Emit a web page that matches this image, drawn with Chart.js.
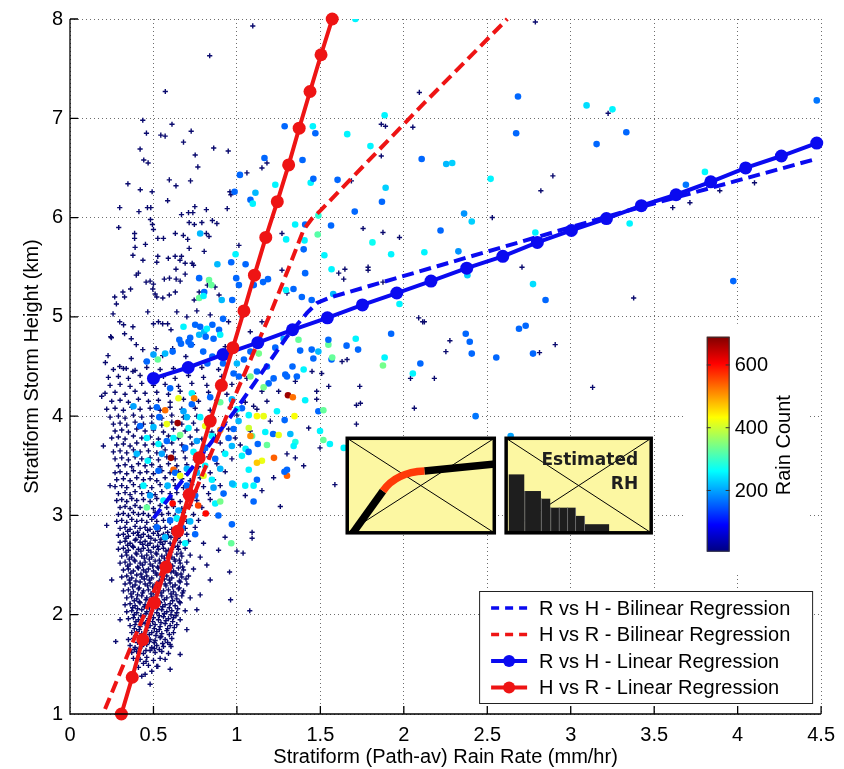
<!DOCTYPE html>
<html>
<head>
<meta charset="utf-8">
<script src="https://cdn.jsdelivr.net/npm/chart.js@4.4.1/dist/chart.umd.min.js"></script>
<style>
  html, body { margin: 0; padding: 0; background: #fff; }
  #wrap { width: 844px; height: 769px; }
</style>
</head>
<body>
<div id="wrap"><canvas id="c" width="844" height="769"></canvas></div>
<script>
'use strict';

// regression lines (rain rate x, storm height y)
const rvhBiX = [0.50, 0.75, 1.00, 1.30, 1.42, 1.48, 1.55, 1.65, 2.20, 3.30, 4.47];
const rvhBiY = [2.97, 3.52, 4.08, 4.80, 5.04, 5.14, 5.19, 5.24, 5.51, 6.05, 6.59];
const hvrBiX = [0.21, 0.60, 1.00, 1.20, 1.31, 1.40, 1.45, 1.50, 2.12, 2.62];
const hvrBiY = [1.05, 2.63, 4.25, 5.03, 5.49, 5.88, 5.99, 6.07, 7.15, 8.00];
const rvhLinX = [0.50, 0.708, 0.917, 1.125, 1.333, 1.542, 1.752, 1.958, 2.163, 2.377, 2.593, 2.80, 3.004, 3.214, 3.423, 3.631, 3.839, 4.048, 4.262, 4.474];
const rvhLinY = [4.38, 4.49, 4.62, 4.74, 4.87, 4.99, 5.12, 5.24, 5.36, 5.49, 5.61, 5.75, 5.87, 5.99, 6.12, 6.23, 6.36, 6.50, 6.62, 6.75];
const hvrLinX = [0.308, 0.373, 0.436, 0.506, 0.575, 0.645, 0.714, 0.774, 0.84, 0.907, 0.976, 1.042, 1.105, 1.173, 1.242, 1.31, 1.373, 1.438, 1.504, 1.571];
const hvrLinY = [1.00, 1.37, 1.75, 2.12, 2.48, 2.84, 3.21, 3.58, 3.95, 4.31, 4.69, 5.06, 5.42, 5.80, 6.16, 6.53, 6.90, 7.27, 7.64, 8.00];

// low count samples, drawn as small crosses: dense core
const coreLow = [
  [0.45,1.40],[0.49,1.43],[0.43,1.38],
  [0.41,1.47],[0.47,1.49],[0.52,1.48],[0.44,1.51],
  [0.38,1.56],[0.42,1.55],[0.46,1.57],[0.50,1.54],[0.54,1.56],[0.57,1.55],
  [0.37,1.62],[0.40,1.63],[0.44,1.61],[0.48,1.64],[0.51,1.62],[0.55,1.63],[0.59,1.61],
  [0.36,1.69],[0.39,1.67],[0.43,1.68],[0.46,1.70],[0.49,1.67],[0.52,1.69],[0.56,1.68],[0.60,1.70],
  [0.35,1.75],[0.38,1.76],[0.42,1.74],[0.45,1.77],[0.48,1.75],[0.51,1.74],[0.54,1.77],[0.57,1.75],[0.61,1.76],
  [0.37,1.82],[0.40,1.83],[0.43,1.81],[0.46,1.84],[0.49,1.82],[0.52,1.83],[0.55,1.81],[0.58,1.84],[0.62,1.82],
  [0.36,1.89],[0.39,1.90],[0.42,1.88],[0.45,1.91],[0.48,1.89],[0.51,1.90],[0.54,1.88],[0.57,1.91],[0.60,1.89],[0.64,1.90],
  [0.35,1.96],[0.38,1.97],[0.41,1.95],[0.44,1.98],[0.47,1.96],[0.50,1.97],[0.53,1.95],[0.56,1.98],[0.59,1.96],[0.62,1.97],[0.66,1.95],
  [0.34,2.03],[0.37,2.04],[0.40,2.02],[0.43,2.05],[0.46,2.03],[0.49,2.04],[0.52,2.02],[0.55,2.05],[0.58,2.03],[0.61,2.04],[0.64,2.02],[0.69,2.04],
  [0.33,2.10],[0.36,2.11],[0.39,2.09],[0.42,2.12],[0.45,2.10],[0.48,2.11],[0.51,2.09],[0.54,2.12],[0.57,2.10],[0.60,2.11],[0.63,2.09],[0.66,2.12],
  [0.34,2.17],[0.37,2.18],[0.40,2.16],[0.43,2.19],[0.46,2.17],[0.49,2.18],[0.52,2.16],[0.55,2.19],[0.58,2.17],[0.61,2.18],[0.64,2.16],[0.67,2.19],[0.72,2.17],
  [0.32,2.24],[0.35,2.25],[0.38,2.23],[0.41,2.26],[0.44,2.24],[0.47,2.25],[0.50,2.23],[0.53,2.26],[0.56,2.24],[0.59,2.25],[0.62,2.23],[0.65,2.26],[0.68,2.24],
  [0.33,2.31],[0.36,2.32],[0.39,2.30],[0.42,2.33],[0.45,2.31],[0.48,2.32],[0.51,2.30],[0.54,2.33],[0.57,2.31],[0.60,2.32],[0.63,2.30],[0.66,2.33],[0.70,2.31],
  [0.31,2.38],[0.34,2.39],[0.37,2.37],[0.40,2.40],[0.43,2.38],[0.46,2.39],[0.49,2.37],[0.52,2.40],[0.55,2.38],[0.58,2.39],[0.61,2.37],[0.64,2.40],[0.67,2.38],[0.71,2.39],
  [0.32,2.45],[0.35,2.46],[0.38,2.44],[0.41,2.47],[0.44,2.45],[0.47,2.46],[0.50,2.44],[0.53,2.47],[0.56,2.45],[0.59,2.46],[0.62,2.44],[0.65,2.47],[0.68,2.45],[0.74,2.46],
  [0.30,2.52],[0.33,2.53],[0.36,2.51],[0.39,2.54],[0.42,2.52],[0.45,2.53],[0.48,2.51],[0.51,2.54],[0.54,2.52],[0.57,2.53],[0.60,2.51],[0.63,2.54],[0.66,2.52],[0.70,2.53],
  [0.31,2.59],[0.34,2.60],[0.37,2.58],[0.40,2.61],[0.43,2.59],[0.46,2.60],[0.49,2.58],[0.52,2.61],[0.55,2.59],[0.58,2.60],[0.61,2.58],[0.64,2.61],[0.67,2.59],[0.72,2.60],[0.78,2.58],
  [0.29,2.66],[0.32,2.67],[0.35,2.65],[0.38,2.68],[0.41,2.66],[0.44,2.67],[0.47,2.65],[0.50,2.68],[0.53,2.66],[0.56,2.67],[0.59,2.65],[0.62,2.68],[0.65,2.66],[0.69,2.67],
  [0.30,2.73],[0.33,2.74],[0.36,2.72],[0.39,2.75],[0.42,2.73],[0.45,2.74],[0.48,2.72],[0.51,2.75],[0.54,2.73],[0.57,2.74],[0.60,2.72],[0.63,2.75],[0.66,2.73],[0.71,2.74],[0.80,2.72],
  [0.29,2.80],[0.32,2.81],[0.35,2.79],[0.38,2.82],[0.41,2.80],[0.44,2.81],[0.47,2.79],[0.50,2.82],[0.53,2.80],[0.56,2.81],[0.59,2.79],[0.62,2.82],[0.66,2.80],[0.70,2.81],
  [0.30,2.87],[0.33,2.88],[0.36,2.86],[0.39,2.89],[0.42,2.87],[0.45,2.88],[0.48,2.86],[0.51,2.89],[0.54,2.87],[0.57,2.88],[0.61,2.86],[0.65,2.89],[0.69,2.87],[0.75,2.88],
  [0.28,2.94],[0.31,2.95],[0.34,2.93],[0.37,2.96],[0.40,2.94],[0.43,2.95],[0.46,2.93],[0.49,2.96],[0.52,2.94],[0.56,2.95],[0.60,2.93],[0.64,2.96],[0.70,2.94],[0.77,2.95],
  [0.29,3.01],[0.32,3.02],[0.35,3.00],[0.38,3.03],[0.41,3.01],[0.44,3.02],[0.47,3.00],[0.51,3.03],[0.55,3.01],[0.59,3.02],[0.63,3.00],[0.68,3.03],[0.74,3.01],[0.82,3.02],
  [0.30,3.08],[0.33,3.09],[0.36,3.07],[0.39,3.10],[0.42,3.08],[0.46,3.09],[0.50,3.07],[0.54,3.10],[0.58,3.08],[0.62,3.09],[0.67,3.07],[0.72,3.10],[0.79,3.08],
  [0.28,3.15],[0.31,3.16],[0.34,3.14],[0.37,3.17],[0.40,3.15],[0.44,3.16],[0.48,3.14],[0.52,3.17],[0.57,3.15],[0.61,3.16],[0.66,3.14],[0.71,3.17],[0.76,3.15],[0.84,3.16],
  [0.29,3.22],[0.33,3.23],[0.36,3.21],[0.39,3.24],[0.43,3.22],[0.47,3.23],[0.51,3.21],[0.55,3.24],[0.60,3.22],[0.64,3.23],[0.69,3.21],[0.75,3.24],[0.83,3.22],
  [0.27,3.29],[0.31,3.30],[0.34,3.28],[0.38,3.31],[0.42,3.29],[0.45,3.30],[0.49,3.28],[0.54,3.31],[0.58,3.29],[0.63,3.30],[0.68,3.28],[0.73,3.31],[0.80,3.29],[0.90,3.30],
  [0.28,3.36],[0.32,3.37],[0.36,3.35],[0.40,3.38],[0.44,3.36],[0.48,3.37],[0.52,3.35],[0.57,3.38],[0.62,3.36],[0.67,3.37],[0.72,3.35],[0.78,3.38],[0.86,3.36],
  [0.27,3.43],[0.30,3.44],[0.34,3.42],[0.38,3.45],[0.42,3.43],[0.46,3.44],[0.50,3.42],[0.55,3.45],[0.60,3.43],[0.65,3.44],[0.70,3.42],[0.76,3.45],[0.84,3.43],[0.93,3.44],
  [0.29,3.50],[0.33,3.51],[0.37,3.49],[0.41,3.52],[0.45,3.50],[0.49,3.51],[0.54,3.49],[0.59,3.52],[0.64,3.50],[0.70,3.51],[0.77,3.49],[0.88,3.52],
  [0.27,3.57],[0.31,3.58],[0.35,3.56],[0.39,3.59],[0.43,3.57],[0.48,3.58],[0.53,3.56],[0.58,3.59],[0.63,3.57],[0.69,3.58],[0.75,3.56],[0.83,3.59],[0.97,3.57],
  [0.26,3.64],[0.30,3.65],[0.34,3.63],[0.38,3.66],[0.42,3.64],[0.47,3.65],[0.52,3.63],[0.57,3.66],[0.62,3.64],[0.68,3.65],[0.74,3.63],[0.81,3.66],[0.92,3.64],
  [0.28,3.71],[0.32,3.72],[0.36,3.70],[0.40,3.73],[0.45,3.71],[0.50,3.72],[0.55,3.70],[0.61,3.73],[0.67,3.71],[0.73,3.72],[0.80,3.70],[0.90,3.73],[1.02,3.71],
  [0.25,3.78],[0.29,3.79],[0.33,3.77],[0.38,3.80],[0.43,3.78],[0.48,3.79],[0.53,3.77],[0.59,3.80],[0.65,3.78],[0.72,3.79],[0.79,3.77],[0.87,3.80],[0.99,3.78],
  [0.27,3.85],[0.31,3.86],[0.35,3.84],[0.40,3.87],[0.45,3.85],[0.50,3.86],[0.56,3.84],[0.62,3.87],[0.69,3.85],[0.76,3.86],[0.85,3.84],[0.95,3.87],[1.08,3.85],
  [0.26,3.92],[0.30,3.93],[0.34,3.91],[0.39,3.94],[0.44,3.92],[0.49,3.93],[0.55,3.91],[0.61,3.94],[0.67,3.92],[0.74,3.93],[0.82,3.91],[0.93,3.94],
  [0.24,3.99],[0.29,4.00],[0.33,3.98],[0.38,4.01],[0.43,3.99],[0.49,4.00],[0.55,3.98],[0.61,4.01],[0.68,3.99],[0.76,4.00],[0.86,3.98],[1.00,4.01],
  [0.22,4.07],[0.27,4.08],[0.32,4.06],[0.37,4.09],[0.42,4.07],[0.48,4.08],[0.54,4.06],[0.60,4.09],[0.67,4.07],[0.75,4.08],[0.84,4.06],[0.96,4.09],[1.12,4.07],
  [0.25,4.15],[0.30,4.16],[0.35,4.14],[0.41,4.17],[0.47,4.15],[0.53,4.16],[0.60,4.14],[0.68,4.17],[0.77,4.15],[0.88,4.16],[1.05,4.14],
  [0.21,4.23],[0.27,4.24],[0.33,4.22],[0.39,4.25],[0.45,4.23],[0.52,4.24],[0.59,4.22],[0.66,4.25],[0.74,4.23],[0.83,4.24],[0.94,4.22],[1.15,4.25],
  [0.24,4.31],[0.30,4.32],[0.36,4.30],[0.43,4.33],[0.50,4.31],[0.57,4.32],[0.65,4.30],[0.73,4.33],[0.82,4.31],[0.97,4.32],
  [0.23,4.39],[0.29,4.40],[0.35,4.38],[0.42,4.41],[0.49,4.39],[0.56,4.40],[0.63,4.38],[0.71,4.41],[0.80,4.39],[0.91,4.40],[1.06,4.38],
  [0.26,4.47],[0.32,4.48],[0.39,4.46],[0.46,4.49],[0.54,4.47],[0.62,4.48],[0.70,4.46],[0.79,4.49],[0.89,4.47]
];

// extra low count samples filling the densest part of the core
const coreFill = [
  [0.385,1.65],[0.415,1.66],[0.455,1.64],[0.505,1.66],[0.535,1.65],
  [0.405,1.72],[0.445,1.71],[0.475,1.73],[0.505,1.72],[0.555,1.71],[0.585,1.72],
  [0.395,1.79],[0.435,1.78],[0.475,1.80],[0.515,1.79],[0.545,1.78],[0.595,1.80],
  [0.385,1.86],[0.415,1.85],[0.465,1.87],[0.505,1.86],[0.535,1.85],[0.585,1.86],[0.625,1.87],
  [0.395,1.93],[0.435,1.92],[0.465,1.94],[0.495,1.93],[0.545,1.92],[0.575,1.94],[0.615,1.93],
  [0.385,2.00],[0.425,1.99],[0.455,2.01],[0.485,2.00],[0.535,1.99],[0.565,2.01],[0.605,2.00],[0.635,1.99],
  [0.375,2.07],[0.405,2.06],[0.445,2.08],[0.475,2.07],[0.525,2.06],[0.555,2.08],[0.595,2.07],[0.645,2.06],
  [0.385,2.14],[0.415,2.13],[0.455,2.15],[0.505,2.14],[0.535,2.13],[0.565,2.15],[0.615,2.14],[0.655,2.13],
  [0.365,2.21],[0.405,2.20],[0.435,2.22],[0.485,2.21],[0.515,2.20],[0.545,2.22],[0.605,2.21],[0.635,2.20],[0.675,2.22],
  [0.375,2.28],[0.415,2.27],[0.465,2.29],[0.495,2.28],[0.525,2.27],[0.575,2.29],[0.615,2.28],[0.655,2.27],
  [0.355,2.35],[0.395,2.34],[0.445,2.36],[0.475,2.35],[0.535,2.34],[0.565,2.36],[0.595,2.35],[0.655,2.34],[0.695,2.36],
  [0.365,2.42],[0.425,2.41],[0.455,2.43],[0.515,2.42],[0.545,2.41],[0.605,2.43],[0.635,2.42],[0.665,2.41],
  [0.345,2.49],[0.405,2.48],[0.435,2.50],[0.495,2.49],[0.525,2.48],[0.585,2.50],[0.615,2.49],[0.675,2.48],
  [0.355,2.56],[0.385,2.55],[0.445,2.57],[0.475,2.56],[0.535,2.55],[0.565,2.57],[0.625,2.56],[0.655,2.55],
  [0.335,2.63],[0.395,2.62],[0.425,2.64],[0.485,2.63],[0.515,2.62],[0.575,2.64],[0.605,2.63],[0.665,2.62],
  [0.345,2.70],[0.375,2.69],[0.435,2.71],[0.465,2.70],[0.525,2.69],[0.555,2.71],[0.615,2.70],[0.645,2.69],
  [0.335,2.77],[0.395,2.76],[0.425,2.78],[0.485,2.77],[0.545,2.76],[0.605,2.78],[0.645,2.77],
  [0.345,2.84],[0.405,2.83],[0.465,2.85],[0.525,2.84],[0.585,2.83],[0.635,2.85]
];

// low count samples outside the core
const sparseLow = [
  [1.095,7.93],[0.837,7.63],[0.571,7.27],[0.436,6.98],[0.611,6.94],[0.458,6.85],[0.544,6.83],[0.57,6.82],[0.726,6.87],
  [0.68,6.76],[0.42,6.69],[0.861,6.70],[0.948,6.67],[0.442,6.58],[0.468,6.55],[0.75,6.63],[0.766,6.51],[0.347,6.34],
  [0.595,6.38],[0.722,6.37],[0.635,6.32],[0.492,6.26],[0.421,6.28],[0.958,6.26],[0.964,6.23],[0.585,6.17],[0.298,6.10],
  [0.464,6.10],[0.484,6.10],[0.748,6.11],[0.668,6.03],[0.71,6.05],[0.736,6.05],[0.817,6.08],[0.942,6.09],[0.413,6.06],
  [0.482,5.98],[0.292,5.90],[0.387,5.84],[0.387,5.79],[0.494,5.93],[0.50,5.88],[0.526,5.79],[0.56,5.79],[0.714,5.95],
  [0.745,5.93],[0.79,5.95],[0.853,5.97],[0.88,5.94],[0.817,5.84],[0.833,5.81],[0.631,5.84],[0.679,5.82],[0.705,5.78],
  [0.452,5.73],[0.39,5.70],[0.526,5.61],[0.589,5.59],[0.63,5.61],[0.668,5.61],[0.714,5.69],[0.804,5.66],[0.377,5.62],
  [0.437,5.57],[0.52,5.55],[0.659,5.57],[0.69,5.54],[0.732,5.54],[0.74,5.52],[0.69,5.43],[0.41,5.44],[0.596,5.39],
  [0.636,5.38],[0.66,5.36],[0.48,5.36],[0.50,5.33],[0.635,5.48],[0.397,5.42],[0.317,5.25],[0.268,5.20],[0.327,5.20],
  [0.278,5.13],[0.363,5.28],[0.456,5.35],[0.496,5.28],[0.51,5.23],[0.52,5.20],[0.565,5.38],[0.556,5.19],[0.595,5.22],
  [0.631,5.25],[0.774,5.25],[0.744,5.17],[0.823,5.32],[0.869,5.30],[0.893,5.22],[0.258,5.03],[0.248,4.79],[0.298,4.95],
  [0.321,4.92],[0.327,4.83],[0.377,4.90],[0.367,4.78],[0.466,5.05],[0.50,4.93],[0.53,4.95],[0.555,4.93],[0.585,4.93],
  [0.605,4.87],[0.397,4.72],[0.436,4.67],[0.516,4.68],[0.367,4.58],[0.456,4.55],[0.555,4.61],[0.615,4.68],[0.694,4.60],
  [0.734,4.72],[0.228,4.61],[0.337,4.48],[0.377,4.45],[0.298,4.50],[0.212,4.54],[0.244,4.80],[0.64,5.05],[0.70,5.00],
  [0.76,5.06],[0.84,5.02],[0.95,4.95],[1.03,5.00],[1.08,4.85],[1.15,4.95],[0.93,4.70],[1.18,6.55],[1.15,6.50],
  [1.012,5.72],[1.06,6.45],[1.865,6.94],[1.89,6.92],[2.054,6.91],[1.865,6.62],[1.756,5.89],[1.875,5.85],[1.974,5.80],
  [1.786,5.50],[1.786,5.47],[1.875,5.35],[1.686,6.37],[1.647,5.48],[2.113,4.95],[2.04,4.38],[1.736,4.30],[1.716,3.92],
  [2.063,4.08],[1.27,5.84],[1.27,5.47],[1.30,5.24],[1.61,5.44],[1.64,5.38],[1.508,4.43],[1.63,4.55],[1.66,4.57],
  [2.788,7.97],[2.093,7.26],[3.224,7.05],[2.893,6.42],[2.821,6.27],[2.53,6.00],[2.708,5.50],[3.377,5.19],[3.611,6.10],
  [3.714,6.15],[3.893,6.27],[4.101,6.35],[2.123,4.95],[2.089,4.99],[2.276,4.76],[2.252,4.65],[2.907,4.72],[2.813,4.64],
  [2.183,4.38],[3.131,4.29],[0.962,2.15],[1.077,2.04],[0.956,2.43],[1.037,2.62],[1.00,2.64],[1.091,2.83],[1.091,2.77],
  [1.26,3.09],[0.929,2.78],[0.89,2.65],[1.587,3.31],[1.716,4.11],[1.74,4.13],[1.478,4.25],[1.478,4.17],[1.43,3.88],
  [1.498,3.68],[1.35,3.58],[1.22,3.38],[0.274,1.73],[0.456,1.53],[0.526,1.48],[0.605,1.68],[0.84,2.35],[0.78,2.20],
  [0.82,2.50],[1.05,3.20],[1.15,3.25],[1.30,3.62],[1.40,3.50],[1.18,4.15],[1.25,4.25],[1.35,4.35],[1.45,4.45],
  [1.10,4.10],[1.20,3.95],[1.55,4.30],[0.25,2.35],[0.22,2.90],[0.24,3.30],[0.20,3.70],[0.19,4.20],[0.30,1.95],
  [0.66,1.60],[0.70,1.85],[0.76,2.05],[0.60,1.45],[0.48,1.30]
];

// higher count samples: [rain rate, height, rain count]
const highCount = [
  [1.71,8.0,255],[1.286,6.92,160],[1.455,6.92,255],[1.47,6.85,160],[1.885,7.03,255],[1.661,6.84,255],[1.80,6.72,255],
  [1.165,6.60,160],[1.393,6.58,160],[1.018,6.43,160],[1.23,6.33,255],[1.442,6.35,255],[1.458,6.39,160],[1.603,6.38,160],
  [1.891,6.30,230],[1.869,6.16,160],[1.706,6.06,160],[1.081,6.18,160],[1.095,6.14,255],[1.111,6.25,215],[0.986,6.26,160],
  [1.488,6.02,290],[1.349,5.93,255],[1.409,5.93,160],[1.564,5.92,160],[1.484,5.83,320],[1.295,5.78,255],[1.405,5.77,255],
  [1.40,5.68,160],[1.524,5.62,255],[1.812,5.75,270],[1.924,5.63,255],[1.567,5.48,255],[1.409,5.44,160],[0.78,5.84,215],
  [0.883,5.53,215],[0.992,5.63,255],[0.966,5.55,160],[1.052,5.53,160],[0.996,5.39,160],[1.012,5.32,160],[0.774,5.39,160],
  [0.804,5.25,160],[0.909,5.17,215],[0.972,5.17,160],[1.101,5.32,160],[1.157,5.35,160],[1.186,5.38,160],[1.294,5.27,255],
  [1.339,5.28,160],[1.389,5.20,160],[1.448,5.17,160],[1.577,5.23,215],[0.833,5.37,330],[0.847,5.32,330],[0.774,5.19,330],
  [0.80,5.21,255],[1.974,5.13,255],
  [2.684,7.22,160],[2.673,6.85,160],[2.107,6.59,160],[2.254,6.54,215],[2.29,6.55,230],[3.095,7.13,240],[3.25,7.09,255],
  [3.155,6.74,160],[3.333,6.86,160],[2.52,6.39,255],[2.361,6.04,190],[2.407,5.96,230],[2.22,5.87,160],[2.123,5.65,255],
  [2.327,5.66,190],[2.381,5.42,230],[2.788,5.85,255],[2.774,5.33,240],[2.849,5.17,160],[3.353,5.94,255],[3.69,6.33,170],
  [3.804,6.46,260],[3.974,5.36,160],[4.474,7.18,170],[2.371,4.83,160],[2.395,4.75,160],[2.407,4.63,160],[2.099,4.53,160],
  [2.69,4.88,160],[2.73,4.91,160],[2.554,4.59,160],[2.774,4.63,160],[2.43,4.00,170],[2.64,3.80,200],
  [0.68,4.90,255],[0.75,4.92,160],[0.78,4.90,160],[0.804,4.85,215],[0.853,4.92,160],[0.893,4.87,160],[0.917,4.98,160],
  [0.774,4.82,215],[0.813,4.80,160],[0.72,4.79,160],[0.724,4.72,160],[0.665,4.73,160],[0.57,4.63,215],[0.615,4.65,160],
  [0.526,4.57,330],[0.798,4.65,160],[0.853,4.60,160],[0.917,4.53,160],[1.00,4.53,215],[1.042,4.57,160],[1.012,4.40,160],
  [1.081,4.65,160],[1.29,4.42,160],[1.333,4.50,160],[1.369,4.77,330],[1.379,4.66,160],[1.448,4.67,160],[1.488,4.65,215],
  [1.548,4.72,330],[1.567,4.57,160],[1.657,4.71,160],[1.712,4.78,255],[1.726,4.67,160],[1.875,4.51,340],[1.885,4.59,255],
  [1.924,4.83,160],[2.054,4.43,255],[1.22,4.38,160],[1.12,4.45,160],[1.18,4.50,160],[1.131,4.63,340],[1.23,4.69,160],
  [1.28,4.78,200],[1.40,4.47,255],[1.359,4.40,160],[1.30,4.40,160],[1.19,4.33,160],[1.16,4.29,340],[1.081,4.40,340],
  [0.98,4.43,160],[0.655,4.77,160],[0.71,4.75,160],[0.823,4.53,160],[0.82,4.88,255],[0.90,4.82,255],[0.86,4.78,160],
  [0.46,4.55,160],[0.50,4.62,200],[1.548,4.77,160],[1.571,4.59,330],[1.458,4.58,160],
  [1.306,4.21,670],[1.335,4.19,530],[1.345,4.00,430],[1.409,4.16,255],[1.488,4.05,160],[1.518,4.06,330],[1.498,3.85,255],
  [1.518,3.76,330],[1.557,3.72,255],[1.64,3.68,255],[1.286,3.96,160],[1.24,4.05,255],[1.16,4.00,420],[1.12,4.00,430],
  [1.071,4.01,255],[1.03,4.08,160],[0.972,4.16,160],[1.071,3.88,400],[1.091,3.80,330],[1.081,3.80,510],[1.17,3.84,255],
  [1.217,3.82,160],[1.25,3.81,420],[1.32,3.82,215],[1.35,3.74,280],[1.34,3.70,255],[1.18,3.71,330],[1.125,3.72,160],
  [1.052,3.67,255],[1.07,3.64,160],[1.03,3.60,255],[1.071,3.46,255],[1.15,3.55,420],[1.222,3.58,540],[1.12,3.53,470],
  [1.30,3.40,540],[1.285,3.44,160],[1.30,3.46,160],[1.12,3.36,160],[1.10,3.30,255],[1.05,3.30,255],[0.98,3.31,255],
  [0.972,3.32,215],[1.10,3.14,160],[0.97,2.91,160],[0.966,2.72,330],[0.889,3.00,160],[0.813,3.02,600],[0.768,3.10,560],
  [0.75,3.20,160],[0.87,3.12,255],[0.90,3.14,340],[0.85,3.36,255],[0.80,3.40,420],[0.76,3.43,215],[0.81,3.50,255],
  [0.90,3.47,215],[0.87,3.57,160],[0.93,3.62,255],[0.97,3.70,215],[0.95,3.78,160],[0.98,3.87,160],[1.01,3.95,215],
  [0.90,3.86,520],[0.85,3.80,255],[0.81,3.90,420],[0.78,3.99,255],[0.73,4.12,160],[0.70,3.99,215],[0.645,3.93,670],
  [0.62,3.78,255],[0.66,3.81,340],[0.58,3.75,160],[0.605,3.58,670],[0.62,3.46,540],[0.63,3.43,160],[0.57,4.06,530],
  [0.535,3.99,160],[0.52,4.09,160],[0.50,3.89,215],[0.46,3.78,255],[0.466,3.55,255],[0.44,3.30,255],[0.46,3.08,330],
  [0.615,3.12,600],[0.585,3.30,215],[0.66,3.40,420],[0.70,3.30,160],[0.70,3.47,215],[0.74,3.64,255],[0.77,3.54,340],
  [0.69,3.68,160],[0.81,3.68,160],[0.90,4.14,330],[0.84,4.19,160],[0.97,4.17,215],[0.65,4.18,420],[0.73,4.23,255],
  [1.00,4.07,255],[0.52,2.88,160],[0.57,2.78,215],[0.64,2.97,255],[0.67,2.88,160],[0.72,2.94,215],[0.75,2.81,160],
  [0.69,2.72,255],[0.744,4.18,520],[0.55,3.62,200],[0.53,3.45,160],[0.48,3.20,200],[0.56,3.15,255],[0.65,3.05,200],
  [0.60,2.95,160],[0.40,3.62,215],[0.42,3.90,160],[0.38,4.10,200],[0.60,4.28,160],[0.68,4.05,200],[0.76,3.75,200],
  [0.86,3.28,200],[0.92,3.22,160],[0.53,3.72,255],[0.58,3.92,420],[0.71,3.88,255]
];

const xTicks = [0, 0.5, 1, 1.5, 2, 2.5, 3, 3.5, 4, 4.5];
const yTicks = [1, 2, 3, 4, 5, 6, 7, 8];
const countTicks = [200, 400, 600];
const countMin = 5, countMax = 690;

const BLUE = '#0a0af0';
const RED = '#ee1414';
const NAVY = '#0a0a6e';
const FONT = '"Liberation Sans", Arial, Helvetica, sans-serif';

function jet(v) {
  const t = Math.min(1, Math.max(0, (v - countMin) / (countMax - countMin)));
  const c = (f) => Math.round(255 * Math.min(1, Math.max(0, 1.5 - Math.abs(4 * t - f))));
  return `rgb(${c(3)},${c(2)},${c(1)})`;
}

const toXY = (xs, ys) => xs.map((x, i) => ({ x, y: ys[i] }));

const legendRows = [
  { label: 'R vs H - Bilinear Regression', color: BLUE, dash: true },
  { label: 'H vs R - Bilinear Regression', color: RED, dash: true },
  { label: 'R vs H - Linear Regression', color: BLUE, dash: false },
  { label: 'H vs R - Linear Regression', color: RED, dash: false },
];

function drawInsetFrame(ctx, x0, y0, x1, y1) {
  ctx.fillStyle = '#fcf7a2';
  ctx.fillRect(x0, y0, x1 - x0, y1 - y0);
  ctx.strokeStyle = '#000';
  ctx.lineWidth = 1;
  ctx.beginPath();
  ctx.moveTo(x0, y0); ctx.lineTo(x1, y1);
  ctx.moveTo(x0, y1); ctx.lineTo(x1, y0);
  ctx.stroke();
}

function drawInsetBorder(ctx, x0, y0, x1, y1) {
  ctx.strokeStyle = '#000';
  ctx.lineWidth = 3.5;
  ctx.strokeRect(x0, y0, x1 - x0, y1 - y0);
}

const overlays = {
  id: 'overlays',
  afterDatasetsDraw(chart) {
    const { ctx, chartArea: a, scales: { x, y } } = chart;
    ctx.save();

    // inset 1: sketch of the bilinear curve
    let x0 = x.getPixelForValue(1.661), x1 = x.getPixelForValue(2.542);
    let y0 = y.getPixelForValue(3.777), y1 = y.getPixelForValue(2.825);
    let w = x1 - x0, h = y1 - y0;
    drawInsetFrame(ctx, x0, y0, x1, y1);
    ctx.save();
    ctx.beginPath(); ctx.rect(x0, y0, w, h); ctx.clip();
    ctx.lineCap = 'butt';
    ctx.lineWidth = 7.5;
    ctx.strokeStyle = '#000';
    ctx.beginPath();
    ctx.moveTo(x0 + 0.03 * w, y0 + 1.02 * h);
    ctx.lineTo(x0 + 0.243 * w, y0 + 0.558 * h);
    ctx.stroke();
    ctx.beginPath();
    ctx.moveTo(x0 + 0.525 * w, y0 + 0.347 * h);
    ctx.lineTo(x0 + 1.02 * w, y0 + 0.27 * h);
    ctx.stroke();
    ctx.strokeStyle = '#ff3a08';
    ctx.beginPath();
    ctx.moveTo(x0 + 0.243 * w, y0 + 0.558 * h);
    ctx.quadraticCurveTo(x0 + 0.333 * w, y0 + 0.36 * h, x0 + 0.525 * w, y0 + 0.347 * h);
    ctx.stroke();
    ctx.restore();
    drawInsetBorder(ctx, x0, y0, x1, y1);

    // inset 2: estimated RH steps
    x0 = x.getPixelForValue(2.613); x1 = x.getPixelForValue(3.482);
    w = x1 - x0;
    drawInsetFrame(ctx, x0, y0, x1, y1);
    const edges = [0.018, 0.125, 0.240, 0.304, 0.475, 0.537, 0.710];
    const tops = [0.382, 0.558, 0.639, 0.734, 0.821, 0.909];
    ctx.fillStyle = '#1e1e1e';
    for (let i = 0; i < tops.length; i++) {
      ctx.fillRect(x0 + edges[i] * w, y0 + tops[i] * h, (edges[i + 1] - edges[i]) * w, (1 - tops[i]) * h);
    }
    ctx.strokeStyle = '#6a6a6a';
    ctx.lineWidth = 1;
    ctx.beginPath();
    [0.125, 0.240, 0.304, 0.363, 0.420, 0.475, 0.537].forEach((f) => {
      const tp = f <= 0.125 ? tops[1] : f <= 0.240 ? tops[2] : f <= 0.475 ? tops[3] : f <= 0.537 ? tops[4] : tops[5];
      ctx.moveTo(x0 + f * w + 0.5, y0 + tp * h);
      ctx.lineTo(x0 + f * w + 0.5, y1);
    });
    ctx.stroke();
    ctx.fillStyle = '#1e1e1e';
    ctx.font = 'bold 17px "DejaVu Sans", Verdana, sans-serif';
    ctx.textAlign = 'right';
    ctx.textBaseline = 'alphabetic';
    ctx.fillText('Estimated', x0 + 0.91 * w, y0 + 0.284 * h);
    ctx.fillText('RH', x0 + 0.91 * w, y0 + 0.537 * h);
    drawInsetBorder(ctx, x0, y0, x1, y1);

    // colour bar
    ctx.fillStyle = '#fff';
    const bgx0 = x.getPixelForValue(3.68), bgx1 = x.getPixelForValue(4.42);
    const bgy0 = y.getPixelForValue(4.93), bgy1 = y.getPixelForValue(2.42);
    ctx.fillRect(bgx0, bgy0, bgx1 - bgx0, bgy1 - bgy0);
    const cx0 = x.getPixelForValue(3.815), cx1 = x.getPixelForValue(3.952);
    const cy0 = y.getPixelForValue(4.80), cy1 = y.getPixelForValue(2.635);
    const grad = ctx.createLinearGradient(0, cy1, 0, cy0);
    for (let i = 0; i <= 40; i++) {
      grad.addColorStop(i / 40, jet(countMin + (i / 40) * (countMax - countMin)));
    }
    ctx.fillStyle = grad;
    ctx.fillRect(cx0, cy0, cx1 - cx0, cy1 - cy0);
    ctx.strokeStyle = '#333';
    ctx.lineWidth = 1;
    ctx.strokeRect(cx0 + 0.5, cy0 + 0.5, cx1 - cx0 - 1, cy1 - cy0 - 1);
    ctx.font = `20px ${FONT}`;
    ctx.fillStyle = '#000';
    ctx.textAlign = 'left';
    ctx.textBaseline = 'middle';
    countTicks.forEach((v) => {
      const py = cy1 - (v - countMin) / (countMax - countMin) * (cy1 - cy0);
      ctx.beginPath();
      ctx.moveTo(cx0, py); ctx.lineTo(cx0 + 4, py);
      ctx.moveTo(cx1, py); ctx.lineTo(cx1 - 4, py);
      ctx.stroke();
      ctx.fillText(String(v), cx1 + 5, py + 1);
    });
    ctx.save();
    ctx.translate(cx1 + 55, (cy0 + cy1) / 2 + 1);
    ctx.rotate(-Math.PI / 2);
    ctx.textAlign = 'center';
    ctx.fillText('Rain Count', 0, 0);
    ctx.restore();

    // legend
    const lx = a.right - 342, ly = a.bottom - 123, lw = 333, lh = 112;
    ctx.fillStyle = '#fff';
    ctx.fillRect(lx, ly, lw, lh);
    ctx.strokeStyle = '#222';
    ctx.lineWidth = 1;
    ctx.strokeRect(lx + 0.5, ly + 0.5, lw, lh);
    legendRows.forEach((r, i) => {
      const ry = ly + 17 + i * 26.5;
      ctx.strokeStyle = r.color;
      ctx.lineWidth = r.dash ? 3.5 : 4;
      ctx.setLineDash(r.dash ? [8, 6] : []);
      ctx.beginPath();
      ctx.moveTo(lx + 12, ry); ctx.lineTo(lx + 48, ry);
      ctx.stroke();
      ctx.setLineDash([]);
      if (!r.dash) {
        ctx.fillStyle = r.color;
        ctx.beginPath();
        ctx.arc(lx + 30, ry, 6, 0, Math.PI * 2);
        ctx.fill();
      }
      ctx.fillStyle = '#000';
      ctx.textAlign = 'left';
      ctx.fillText(r.label, lx + 60, ry + 1);
    });
    ctx.restore();
  },
  afterDraw(chart) {
    const { ctx, chartArea: a, scales: { x, y } } = chart;
    ctx.save();
    ctx.strokeStyle = '#000';
    ctx.lineWidth = 1.3;
    ctx.beginPath();
    ctx.moveTo(a.left, a.top); ctx.lineTo(a.left, a.bottom); ctx.lineTo(a.right, a.bottom);
    xTicks.forEach((v) => {
      const px = x.getPixelForValue(v);
      ctx.moveTo(px, a.bottom); ctx.lineTo(px, a.bottom - 8);
    });
    yTicks.forEach((v) => {
      const py = y.getPixelForValue(v);
      ctx.moveTo(a.left, py); ctx.lineTo(a.left + 8, py);
    });
    ctx.stroke();
    ctx.fillStyle = '#000';
    ctx.font = `20px ${FONT}`;
    ctx.textAlign = 'center';
    ctx.textBaseline = 'middle';
    ctx.fillText('Stratiform (Path-av) Rain Rate (mm/hr)', (a.left + a.right) / 2, 757);
    ctx.translate(32, (a.top + a.bottom) / 2);
    ctx.rotate(-Math.PI / 2);
    ctx.fillText('Stratiform Storm Height (km)', 0, 0);
    ctx.restore();
  },
};

Chart.defaults.font.family = FONT;
Chart.defaults.font.size = 20;
Chart.defaults.color = '#000';

const gridOpts = { color: 'rgba(60,60,60,0.75)', lineWidth: 1, drawTicks: false };
const borderOpts = { display: false, dash: [1, 3] };

new Chart(document.getElementById('c'), {
  type: 'scatter',
  data: {
    datasets: [
      {
        label: legendRows[3].label, data: toXY(hvrLinX, hvrLinY), showLine: true,
        borderColor: RED, backgroundColor: RED, borderWidth: 4,
        pointRadius: 6.5, pointBorderWidth: 0, pointBackgroundColor: RED, order: 0, clip: false,
      },
      {
        label: legendRows[2].label, data: toXY(rvhLinX, rvhLinY), showLine: true,
        borderColor: BLUE, backgroundColor: BLUE, borderWidth: 4,
        pointRadius: 6.5, pointBorderWidth: 0, pointBackgroundColor: BLUE, order: 1, clip: false,
      },
      {
        label: legendRows[1].label, data: toXY(hvrBiX, hvrBiY), showLine: true,
        borderColor: RED, borderWidth: 4, borderDash: [12, 6], pointRadius: 0, order: 2, clip: false,
      },
      {
        label: legendRows[0].label, data: toXY(rvhBiX, rvhBiY), showLine: true,
        borderColor: BLUE, borderWidth: 4, borderDash: [12, 6], pointRadius: 0, order: 3, clip: false,
      },
      {
        label: 'high count', data: highCount.map((p) => ({ x: p[0], y: p[1] })),
        pointStyle: 'circle', pointRadius: 3.3, pointBorderWidth: 0,
        pointBackgroundColor: highCount.map((p) => jet(p[2])), order: 4,
      },
      {
        label: 'low count', data: coreLow.concat(coreFill, sparseLow).map((p) => ({ x: p[0], y: p[1] })),
        pointStyle: 'cross', pointRadius: 2.6, pointBorderWidth: 1.4,
        pointBorderColor: NAVY, order: 5,
      },
    ],
  },
  options: {
    responsive: false,
    animation: false,
    events: [],
    layout: { padding: { top: 15, right: 18, left: 0, bottom: 0 } },
    plugins: { legend: { display: false }, tooltip: { enabled: false } },
    scales: {
      x: {
        type: 'linear', min: 0, max: 4.5,
        afterFit: (s) => { s.height = 55; },
        afterBuildTicks: (s) => { s.ticks = xTicks.map((v) => ({ value: v })); },
        ticks: { padding: 9, maxRotation: 0, autoSkip: false, callback: (v) => String(v) },
        grid: gridOpts, border: borderOpts,
      },
      y: {
        type: 'linear', min: 1, max: 8,
        afterFit: (s) => { s.width = 70; },
        afterBuildTicks: (s) => { s.ticks = yTicks.map((v) => ({ value: v })); },
        ticks: { padding: 7, autoSkip: false, callback: (v) => String(v) },
        grid: gridOpts, border: borderOpts,
      },
    },
  },
  plugins: [overlays],
});
</script>
</body>
</html>
